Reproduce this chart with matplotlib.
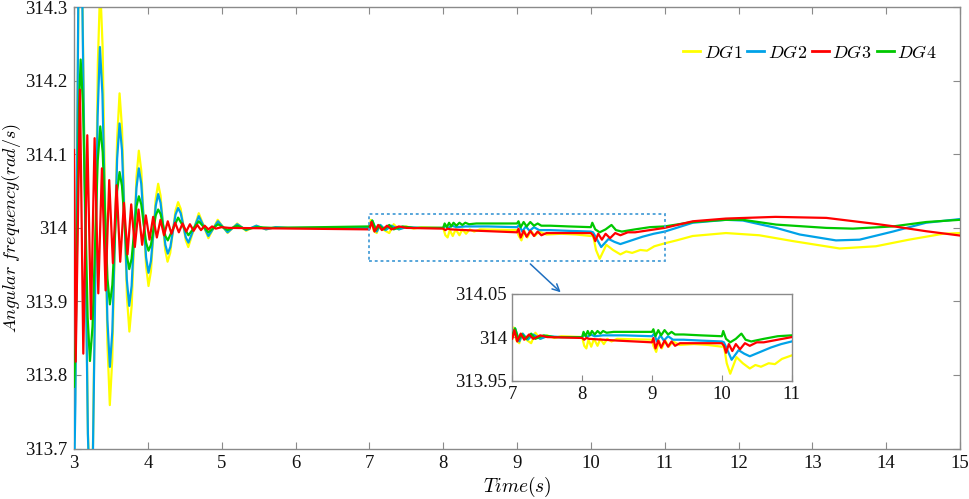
import matplotlib
matplotlib.use("Agg")
import matplotlib.pyplot as plt
from matplotlib.patches import Rectangle
from matplotlib.ticker import FuncFormatter, FixedLocator

plt.rcParams['mathtext.fontset'] = 'cm'
plt.rcParams['font.family'] = ['Liberation Serif', 'DejaVu Serif']

# ---------------- data ----------------
T_DG1 = [3.00, 3.02, 3.06, 3.08, 3.116, 3.189, 3.225, 3.2575, 3.3225, 3.355, 3.3875, 3.4525, 3.485,
         3.518, 3.584, 3.617, 3.650, 3.717, 3.75, 3.782, 3.846, 3.878, 3.911, 3.976, 4.009,
         4.042, 4.107, 4.14, 4.172, 4.235, 4.267, 4.303, 4.374, 4.41, 4.445, 4.514, 4.548,
         4.69, 4.82, 4.946, 5.08, 5.21, 5.33, 5.47, 5.60, 5.73, 5.90,
         7.00, 7.02, 7.06, 7.10, 7.14, 7.20, 7.27, 7.33, 7.40, 7.50, 7.60, 7.70,
         8.00, 8.03, 8.06, 8.09, 8.13, 8.17, 8.22, 8.26, 8.31, 8.36, 8.42, 8.50,
         9.00, 9.02, 9.06, 9.10, 9.14, 9.19, 9.24, 9.30, 9.40, 9.60, 9.80,
         10.00, 10.03, 10.07, 10.12, 10.21, 10.30, 10.40, 10.48, 10.56, 10.67, 10.76, 10.86, 11.00,
         11.16, 11.38, 11.83, 12.28, 12.74, 13.37, 13.86, 14.31, 14.77, 15.00]
W_DG1 = [313.70, 313.805, 314.315, 314.42, 314.300, 313.72, 313.60, 313.707, 314.223, 314.33, 314.246, 313.843, 313.759,
         313.821, 314.121, 314.183, 314.136, 313.906, 313.859, 313.895, 314.069, 314.105, 314.078, 313.948, 313.921,
         313.941, 314.040, 314.06, 314.044, 313.970, 313.954, 313.966, 314.023, 314.035, 314.026, 313.983, 313.974,
         314.02, 313.986, 314.011, 313.993, 314.006, 313.996, 314.003, 313.998, 314.001, 314.000,
         314.000, 314.011, 313.996, 313.993, 314.004, 313.997, 313.993, 314.005, 313.998, 314.002, 313.999, 314.001,
         314.000, 313.990, 313.987, 313.997, 313.989, 313.998, 313.990, 313.998, 313.992, 313.998, 313.995, 313.998,
         313.997, 313.990, 313.983, 313.996, 313.987, 313.996, 313.989, 313.995, 313.991, 313.992, 313.991,
         313.989, 313.990, 313.970, 313.958, 313.977, 313.970, 313.964, 313.968, 313.966, 313.970, 313.969, 313.975, 313.979,
         313.983, 313.989, 313.993, 313.990, 313.982, 313.972, 313.975, 313.984, 313.992, 313.993]

T_DG2 = [3.00, 3.019, 3.058, 3.077, 3.114, 3.188, 3.225, 3.2565, 3.3195, 3.351, 3.385, 3.452, 3.486,
         3.519, 3.584, 3.617, 3.650, 3.715, 3.748, 3.7805, 3.8455, 3.878, 3.911, 3.976, 4.009,
         4.042, 4.107, 4.14, 4.1725, 4.2375, 4.27, 4.305, 4.375, 4.41, 4.445, 4.515, 4.55,
         4.69, 4.82, 4.95, 5.08, 5.21, 5.33, 5.47, 5.60, 5.73, 5.90,
         7.00, 7.04, 7.10, 7.15, 7.22, 7.30, 7.40, 7.50, 7.70,
         8.00, 8.03, 8.07, 8.12, 8.18, 8.30, 8.60,
         9.00, 9.03, 9.07, 9.12, 9.17, 9.23, 9.30, 9.45, 9.70,
         10.00, 10.03, 10.08, 10.14, 10.24, 10.32, 10.40, 10.55, 10.70, 10.85, 11.00,
         11.16, 11.38, 11.83, 12.06, 12.51, 12.83, 13.32, 13.64, 14.09, 14.54, 15.00]
W_DG2 = [313.65, 313.763, 314.307, 314.42, 314.300, 313.720, 313.60, 313.695, 314.151, 314.246, 314.182, 313.875, 313.811,
         313.859, 314.094, 314.142, 314.106, 313.930, 313.894, 313.921, 314.054, 314.081, 314.060, 313.960, 313.939,
         313.955, 314.030, 314.046, 314.034, 313.977, 313.965, 313.974, 314.018, 314.027, 314.020, 313.987, 313.980,
         314.016, 313.989, 314.009, 313.994, 314.005, 313.997, 314.003, 313.998, 314.001, 314.000,
         314.000, 314.010, 313.995, 314.004, 313.997, 314.003, 313.998, 314.001, 314.000,
         314.000, 314.003, 314.000, 314.003, 314.001, 314.002, 314.002,
         314.001, 314.004, 313.995, 314.002, 313.996, 314.001, 313.997, 313.997, 313.996,
         313.995, 313.994, 313.985, 313.974, 313.985, 313.981, 313.978, 313.983, 313.988, 313.992, 313.995,
         314.000, 314.007, 314.011, 314.010, 314.000, 313.991, 313.983, 313.984, 313.995, 314.007, 314.012]

T_DG3 = [3.00, 3.023, 3.081, 3.126, 3.18, 3.23, 3.279, 3.329, 3.378, 3.428, 3.477, 3.527,
         3.577, 3.626, 3.676, 3.725, 3.775, 3.824, 3.874, 3.923, 3.973, 4.023, 4.072, 4.122,
         4.171, 4.22, 4.27, 4.32, 4.37, 4.42, 4.47, 4.52, 4.57, 4.62, 4.67, 4.72, 4.77, 4.82,
         4.87, 4.92, 5.00, 5.10,
         7.00, 7.03, 7.07, 7.12, 7.17, 7.24, 7.30, 7.40, 7.50,
         8.00, 8.03, 8.06, 8.10, 8.50,
         9.00, 9.02, 9.05, 9.09, 9.13, 9.18, 9.23, 9.28, 9.33, 9.40, 9.60,
         10.00, 10.03, 10.06, 10.10, 10.15, 10.20, 10.26, 10.33, 10.40, 10.50, 10.60, 10.80, 11.00,
         11.38, 11.83, 12.50, 13.19, 13.86, 14.09, 14.54, 15.00]
W_DG3 = [314.106, 313.818, 314.188, 313.829, 314.126, 313.876, 314.122, 313.911, 314.081, 313.915, 314.065, 313.952,
         314.058, 313.954, 314.034, 313.964, 314.032, 313.974, 314.025, 313.977, 314.017, 313.984, 314.015, 313.987,
         314.011, 313.990, 314.009, 313.992, 314.007, 313.994, 314.006, 313.995, 314.005, 313.996, 314.004, 313.997, 314.003, 313.998,
         314.002, 313.999, 314.001, 314.000,
         313.998, 314.008, 313.995, 314.004, 313.997, 314.003, 313.998, 314.002, 314.000,
         313.999, 313.997, 313.999, 313.998, 313.996,
         313.994, 313.999, 313.987, 313.996, 313.988, 313.996, 313.989, 313.995, 313.990, 313.993, 313.993,
         313.993, 313.990, 313.982, 313.992, 313.984, 313.992, 313.986, 313.993, 313.990, 313.994, 313.994, 313.997, 314.000,
         314.009, 314.0127, 314.015, 314.0136, 314.0054, 314.0023, 313.9955, 313.9896]

T_DG4 = [3.00, 3.0225, 3.0675, 3.09, 3.1215, 3.1845, 3.216, 3.251, 3.321, 3.356, 3.3885, 3.4535, 3.486,
         3.519, 3.584, 3.617, 3.650, 3.715, 3.748, 3.7805, 3.8455, 3.878, 3.911, 3.976, 4.009,
         4.042, 4.107, 4.14, 4.1725, 4.2375, 4.27,
         4.41, 4.55, 4.69, 4.82, 4.95, 5.08, 5.21, 5.33, 5.47, 5.70,
         7.00, 7.04, 7.09, 7.14, 7.20, 7.27, 7.33, 7.45, 7.60,
         8.00, 8.02, 8.05, 8.08, 8.11, 8.14, 8.18, 8.22, 8.26, 8.30, 8.35, 8.45,
         9.00, 9.02, 9.05, 9.09, 9.13, 9.18, 9.23, 9.28, 9.33, 9.45, 9.70,
         10.00, 10.02, 10.06, 10.12, 10.20, 10.28, 10.34, 10.42, 10.60, 10.80, 11.00,
         11.38, 11.83, 12.06, 12.51, 13.19, 13.55, 14.09, 14.54, 15.00]
W_DG4 = [313.784, 313.849, 314.164, 314.229, 314.169, 313.879, 313.819, 313.866, 314.091, 314.138, 314.103, 313.931, 313.896,
         313.922, 314.050, 314.076, 314.057, 313.963, 313.944, 313.958, 314.029, 314.043, 314.032, 313.980, 313.969,
         313.977, 314.017, 314.025, 314.019, 313.989, 313.983,
         314.014, 313.990, 314.009, 313.994, 314.005, 313.997, 314.003, 313.998, 314.001, 314.000,
         314.002, 314.010, 313.997, 314.003, 313.998, 314.004, 313.998, 314.002, 314.000,
         314.000, 314.006, 314.001, 314.007, 314.002, 314.007, 314.003, 314.007, 314.004, 314.007, 314.005, 314.006,
         314.006, 314.009, 314.001, 314.008, 314.002, 314.008, 314.003, 314.006, 314.003, 314.003, 314.002,
         314.001, 314.007, 313.998, 313.994, 313.998, 314.004, 313.997, 313.995, 313.998, 314.001, 314.002,
         314.008, 314.011, 314.011, 314.0045, 314.000, 313.999, 314.002, 314.008, 314.011]

LABELS = ['$DG1$', '$DG2$', '$DG3$', '$DG4$']
X_TICKS = [3, 4, 5, 6, 7, 8, 9, 10, 11, 12, 13, 14, 15]
Y_TICKS = [313.7, 313.8, 313.9, 314.0, 314.1, 314.2, 314.3]
INSET_X_TICKS = [7, 8, 9, 10, 11]
INSET_Y_TICKS = [313.95, 314.0, 314.05]
ZOOM_BOX = (7.0, 11.0, 313.9546, 314.019)

COLORS = ['#FFFF00', '#00A2E8', '#FF0000', '#00C800']
SERIES = [(T_DG1, W_DG1), (T_DG2, W_DG2), (T_DG3, W_DG3), (T_DG4, W_DG4)]
ZORD = [2, 3, 5, 4]

def fmt(v, pos=None):
    return f"{v:.2f}".rstrip('0').rstrip('.')

SPINE = '#8a8a8a'

fig = plt.figure(figsize=(9.69, 4.99), dpi=100)
ax = fig.add_axes([74/969, 1-448.5/499, (960-74)/969, (448.5-7.3)/499])

lines = []
for (t, w), c, lab, z in zip(SERIES, COLORS, LABELS, ZORD):
    ln, = ax.plot(t, w, color=c, lw=1.6, label=lab, zorder=z)
    lines.append(ln)

ax.set_xlim(3, 15)
ax.set_ylim(313.7, 314.3)
ax.xaxis.set_major_locator(FixedLocator(X_TICKS))
ax.yaxis.set_major_locator(FixedLocator(Y_TICKS))
ax.yaxis.set_major_formatter(FuncFormatter(fmt))
ax.tick_params(direction='in', top=True, right=True, length=5, width=0.8,
               color=SPINE, labelsize=13.5, labelcolor='#111111', pad=5)
for sp in ax.spines.values():
    sp.set_color(SPINE)
    sp.set_linewidth(1.0)

ax.set_xlabel(r'$Time(s)$', fontsize=14, labelpad=2)
ax.set_ylabel(r'$Angular\ frequency(rad/s)$', fontsize=13)
ax.yaxis.set_label_coords(-0.057, 0.5)

leg = fig.legend(handles=lines, labels=LABELS, loc='center', ncol=4,
                 bbox_to_anchor=(810/969, 1-53/499), frameon=False,
                 fontsize=13, handlelength=0.95, handletextpad=0.18,
                 columnspacing=0.28, borderaxespad=0)
for h in leg.legend_handles:
    h.set_linewidth(2.0)

# dashed zoom box
x0, x1, y0, y1 = ZOOM_BOX
ax.add_patch(Rectangle((x0, y0), x1 - x0, y1 - y0, fill=False,
                       edgecolor='#4A9FD8', lw=1.3, ls=(0, (1.6, 1.6)), zorder=6))

# inset
axi = fig.add_axes([512.3/969, 1-380.7/499, (791.7-512.3)/969, (380.7-293.5)/499])
for (t, w), c, z in zip(SERIES, COLORS, ZORD):
    axi.plot(t, w, color=c, lw=1.6, zorder=z)
axi.set_xlim(7, 11)
axi.set_ylim(313.95, 314.05)
axi.xaxis.set_major_locator(FixedLocator(INSET_X_TICKS))
axi.yaxis.set_major_locator(FixedLocator(INSET_Y_TICKS))
axi.yaxis.set_major_formatter(FuncFormatter(fmt))
axi.tick_params(direction='in', length=4, width=0.8, color=SPINE,
                labelsize=13.5, labelcolor='#111111', pad=4)
for sp in axi.spines.values():
    sp.set_color(SPINE)
    sp.set_linewidth(1.0)

# arrow from box to inset
ax.annotate('', xy=(560.7/969, 1-292.3/499), xycoords='figure fraction',
            xytext=(9.18, 313.951), textcoords='data',
            arrowprops=dict(arrowstyle='->,head_length=0.5,head_width=0.25',
                            color='#1f6fc0', lw=1.1, shrinkA=0, shrinkB=0))

fig.savefig('out.png', dpi=100)
